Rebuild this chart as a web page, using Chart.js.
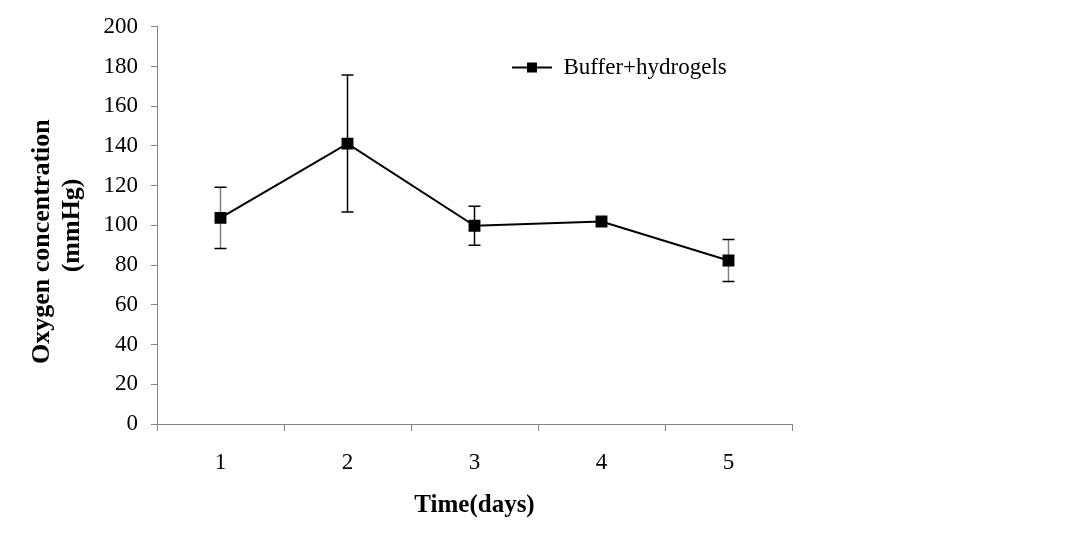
<!DOCTYPE html>
<html>
<head>
<meta charset="utf-8">
<script src="https://cdn.jsdelivr.net/npm/chart.js@4.4.1/dist/chart.umd.min.js"></script>
<style>
  html, body { margin: 0; padding: 0; background: #ffffff; }
  #wrap { width: 1069px; height: 545px; }
</style>
</head>
<body>
<div id="wrap"><canvas id="c" width="1069" height="545"></canvas></div>
<script>
// ---- data ----
const days = ['1', '2', '3', '4', '5'];
const oxygen = [103.8, 141.2, 99.8, 102.0, 82.3];
const oxygenSD = [15.4, 34.5, 9.8, 0, 10.6];
const yTicks = [0, 20, 40, 60, 80, 100, 120, 140, 160, 180, 200];
const seriesLabel = 'Buffer+hydrogels';
const xTitle = 'Time(days)';
const yTitle = ['Oxygen concentration     ', '(mmHg)'];

const FONT = "'Liberation Serif', 'Times New Roman', serif";
const AXIS = '#868686';

// legend marker: line with a square
const mk = document.createElement('canvas');
mk.width = 40; mk.height = 12;
(function () {
  const g = mk.getContext('2d');
  g.strokeStyle = '#000'; g.lineWidth = 2;
  g.beginPath(); g.moveTo(0, 6); g.lineTo(40, 6); g.stroke();
  g.fillStyle = '#000'; g.fillRect(15, 1, 10, 10);
})();

const errorBars = {
  id: 'errorBars',
  beforeDatasetsDraw(chart) {
    const ctx = chart.ctx;
    const meta = chart.getDatasetMeta(0);
    const ys = chart.scales.y;
    const stemColors = ['#808080', '#000000', '#000000', '#000000', '#808080'];
    ctx.save();
    meta.data.forEach((pt, i) => {
      const sd = oxygenSD[i];
      if (!sd) return;
      const x = pt.x;
      const yt = ys.getPixelForValue(oxygen[i] + sd);
      const yb = ys.getPixelForValue(oxygen[i] - sd);
      ctx.lineWidth = 1.5;
      ctx.strokeStyle = stemColors[i];
      ctx.beginPath(); ctx.moveTo(x, yt); ctx.lineTo(x, yb); ctx.stroke();
      ctx.strokeStyle = '#000';
      ctx.beginPath();
      ctx.moveTo(x - 6, yt); ctx.lineTo(x + 6, yt);
      ctx.moveTo(x - 6, yb); ctx.lineTo(x + 6, yb);
      ctx.stroke();
    });
    ctx.restore();
  }
};

const placeLegend = {
  id: 'placeLegend',
  beforeDraw(chart) {
    const lg = chart.legend;
    if (!lg) return;
    lg.left = 502; lg.top = 46;
    lg.right = 900; lg.bottom = 150;
    lg.width = lg.right - lg.left; lg.height = lg.bottom - lg.top;
  }
};

new Chart(document.getElementById('c'), {
  type: 'line',
  data: {
    labels: days,
    datasets: [{
      label: seriesLabel,
      data: oxygen,
      borderColor: '#000',
      backgroundColor: '#000',
      borderWidth: 2,
      pointStyle: 'rect',
      pointRadius: 7,
      pointHoverRadius: 7,
      tension: 0,
      fill: false
    }]
  },
  options: {
    responsive: false,
    animation: false,
    events: [],
    layout: { padding: { top: 25, right: 277, left: 0, bottom: 0 }, autoPadding: false },
    plugins: {
      tooltip: { enabled: false },
      legend: {
        display: true,
        position: 'chartArea',
        align: 'start',
        labels: {
          usePointStyle: true,
          pointStyle: mk,
          pointStyleWidth: 40,
          color: '#000',
          font: { family: FONT, size: 23 },
          padding: 10
        }
      }
    },
    scales: {
      x: {
        type: 'category',
        offset: true,
        grid: { display: true, drawOnChartArea: false, offset: true, tickLength: 7, color: AXIS },
        border: { color: AXIS, width: 1 },
        ticks: { color: '#000', font: { family: FONT, size: 23 }, padding: 18, maxRotation: 0 },
        title: { display: true, text: xTitle, color: '#000', font: { family: FONT, size: 25, weight: 'bold' }, padding: { top: 0, bottom: 24 } },
        afterFit(s) { s.height = 121; }
      },
      y: {
        min: 0, max: 200,
        afterBuildTicks(s) { s.ticks = yTicks.map(v => ({ value: v })); },
        grid: { display: true, drawOnChartArea: false, tickLength: 6, color: AXIS },
        border: { color: AXIS, width: 1 },
        ticks: { color: '#000', font: { family: FONT, size: 23 }, padding: 13 },
        title: { display: true, text: yTitle, color: '#000', font: { family: FONT, size: 26, weight: 'bold', lineHeight: 1.154 }, padding: { top: 27, bottom: 0 } },
        afterFit(s) { s.width = 157; }
      }
    }
  },
  plugins: [errorBars, placeLegend]
});
</script>
</body>
</html>
